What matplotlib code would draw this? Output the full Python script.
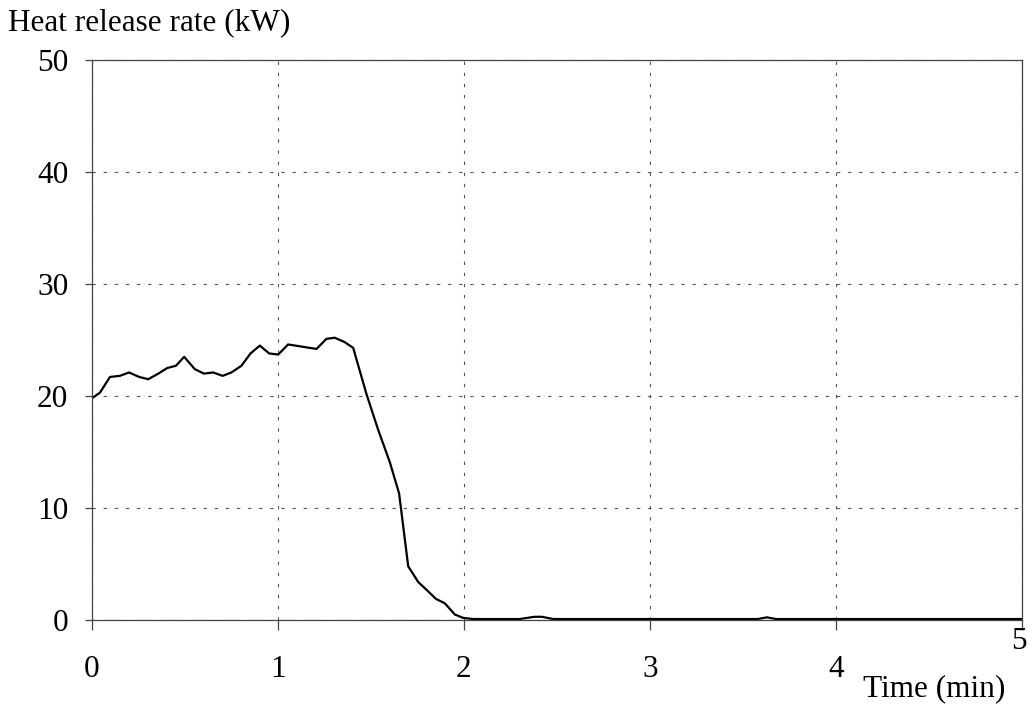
import numpy as np
import matplotlib.pyplot as plt
from matplotlib.transforms import ScaledTranslation

plt.rcParams['font.family'] = ['Liberation Serif', 'DejaVu Serif']

# Heat release rate curve
time_min = [0.0, 0.043, 0.097, 0.15, 0.2, 0.254, 0.303, 0.357, 0.405, 0.452,
            0.496, 0.553, 0.602, 0.652, 0.703, 0.75, 0.804, 0.853, 0.903, 0.953,
            1.002, 1.055, 1.208, 1.261, 1.306, 1.36, 1.405, 1.476, 1.539, 1.602,
            1.652, 1.701, 1.755, 1.8, 1.85, 1.898, 1.952, 1.997, 2.05, 2.3,
            2.38, 2.42, 2.48, 2.8, 3.2, 3.58, 3.63, 3.68, 4.0, 4.5, 5.0]
hrr_kw = [19.8, 20.3, 21.7, 21.8, 22.1, 21.7, 21.5, 22.0, 22.5, 22.7,
          23.5, 22.4, 22.0, 22.1, 21.8, 22.1, 22.7, 23.8, 24.5, 23.8,
          23.7, 24.6, 24.2, 25.1, 25.2, 24.8, 24.3, 20.2, 17.0, 14.1,
          11.3, 4.8, 3.4, 2.7, 1.9, 1.5, 0.5, 0.2, 0.1, 0.1,
          0.3, 0.3, 0.1, 0.1, 0.1, 0.1, 0.25, 0.1, 0.1, 0.1, 0.1]

x_ticks = [0, 1, 2, 3, 4, 5]
y_ticks = [0, 10, 20, 30, 40, 50]

fig = plt.figure(figsize=(10.33, 7.12), dpi=100)
ax = fig.add_axes([0.089, 0.129, 0.900, 0.787])

ax.plot(time_min, hrr_kw, color='black', linewidth=1.6)

ax.set_xlim(0, 5)
ax.set_ylim(0, 50)
ax.set_xticks(x_ticks)
ax.set_yticks(y_ticks)
ax.grid(True, color='#555555', linewidth=0.8, linestyle=(0, (3, 7)))

for s in ax.spines.values():
    s.set_color('#444444')
    s.set_linewidth(0.9)

ax.tick_params(axis='x', direction='out', length=7, width=0.9, color='#444444',
               labelsize=22.5, pad=18)
ax.tick_params(axis='y', direction='out', length=5, width=0.9, color='#444444',
               labelsize=22.5, pad=12)

# last x label sits higher and slightly left in the original
last = ax.get_xticklabels()[-1]
last.set_transform(last.get_transform() + ScaledTranslation(-2 / 72, 20 / 72, fig.dpi_scale_trans))

fig.text(0.008, 0.968, 'Heat release rate (kW)', fontsize=22.5, ha='left', va='center')
fig.text(0.973, 0.032, 'Time (min)', fontsize=22.5, ha='right', va='center')

fig.savefig('out.png', dpi=100)
